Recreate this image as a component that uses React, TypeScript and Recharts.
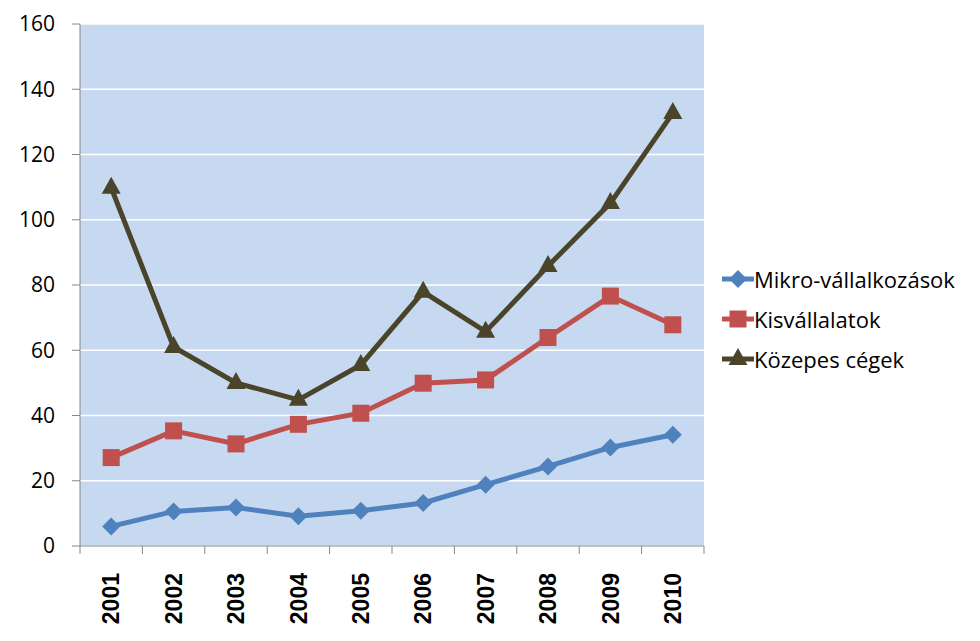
import { LineChart, Line, XAxis, YAxis, CartesianGrid } from 'recharts';

// Data
const years = ['2001', '2002', '2003', '2004', '2005', '2006', '2007', '2008', '2009', '2010'];
const mikro = [6.0, 10.6, 11.8, 9.1, 10.8, 13.2, 18.8, 24.4, 30.2, 34.1];
const kis = [27.1, 35.3, 31.3, 37.3, 40.7, 49.9, 50.9, 63.9, 76.6, 67.8];
const kozepes = [109.8, 61.0, 50.0, 44.8, 55.5, 77.9, 65.7, 85.8, 105.1, 132.7];
const yTicks = [0, 20, 40, 60, 80, 100, 120, 140, 160];

const seriesNames = ['Mikro-vállalkozások', 'Kisvállalatok', 'Közepes cégek'];
const colors = ['#4F81BD', '#C0504D', '#4A452A'];

const data = years.map((year, i) => ({
  year,
  mikro: mikro[i],
  kis: kis[i],
  kozepes: kozepes[i],
}));

const W = 980;
const H = 641;
const PLOT_LEFT = 80;
const PLOT_RIGHT = 704;
const HALF_BAND = (PLOT_RIGHT - PLOT_LEFT) / years.length / 2;
const FONT = '"Open Sans", Lato, sans-serif';
const AXIS_GREY = '#868686';

type MarkerKind = 'diamond' | 'square' | 'triangle';
const markers: MarkerKind[] = ['diamond', 'square', 'triangle'];

const Marker = ({ cx, cy, kind, color }: { cx: number; cy: number; kind: MarkerKind; color: string }) => {
  if (kind === 'diamond') {
    const r = 9;
    return <path d={`M${cx},${cy - r}L${cx + r},${cy}L${cx},${cy + r}L${cx - r},${cy}Z`} fill={color} />;
  }
  if (kind === 'square') {
    const r = 8.5;
    return <rect x={cx - r} y={cy - r} width={r * 2} height={r * 2} fill={color} />;
  }
  const w = 9.5;
  return <path d={`M${cx},${cy - 11}L${cx + w},${cy + 6}L${cx - w},${cy + 6}Z`} fill={color} />;
};

const makeDot = (kind: MarkerKind, color: string) => (props: any) => {
  const { cx, cy, index } = props;
  if (cx == null || cy == null) return <g key={index} />;
  return <Marker key={index} cx={cx} cy={cy} kind={kind} color={color} />;
};

// x tick: rotated year label plus a tick mark on category boundaries
const XTick = (props: any) => {
  const { x, y, payload, index } = props;
  return (
    <g>
      <line x1={x - HALF_BAND} y1={y} x2={x - HALF_BAND} y2={y + 8} stroke={AXIS_GREY} />
      {index === years.length - 1 && (
        <line x1={x + HALF_BAND} y1={y} x2={x + HALF_BAND} y2={y + 8} stroke={AXIS_GREY} />
      )}
      <text
        x={x}
        y={y + 27}
        transform={`rotate(-90, ${x}, ${y + 27})`}
        textAnchor="end"
        dy="0.36em"
        fill="#000"
        fontSize={23}
        fontWeight="bold"
        fontFamily='"Liberation Sans", Arial, sans-serif'
      >
        {payload.value}
      </text>
    </g>
  );
};

const ChartLegend = () => (
  <div style={{ position: 'absolute', left: 722, top: 259, fontFamily: FONT, fontSize: 22, color: '#000' }}>
    {seriesNames.map((name, i) => (
      <div key={name} style={{ display: 'flex', alignItems: 'center', height: 40 }}>
        <svg width={32} height={24} style={{ marginRight: 0 }}>
          <line x1={0} y1={12} x2={32} y2={12} stroke={colors[i]} strokeWidth={5} />
          <Marker cx={16} cy={12} kind={markers[i]} color={colors[i]} />
        </svg>
        <span>{name}</span>
      </div>
    ))}
  </div>
);

const App = () => {
  const keys = ['mikro', 'kis', 'kozepes'];
  return (
    <div style={{ position: 'absolute', left: 0, top: 0, width: W, height: H, background: '#fff' }}>
      <LineChart width={W} height={H} data={data} margin={{ top: 24, right: W - PLOT_RIGHT, bottom: 0, left: 0 }}>
        <CartesianGrid vertical={false} stroke="#FFFFFF" strokeWidth={1.5} fill="#C6D9F1" />
        <XAxis
          dataKey="year"
          height={95}
          padding={{ left: HALF_BAND, right: HALF_BAND }}
          axisLine={{ stroke: AXIS_GREY }}
          tickLine={false}
          tickSize={0}
          tickMargin={0}
          interval={0}
          tick={<XTick />}
        />
        <YAxis
          width={PLOT_LEFT}
          domain={[0, 160]}
          ticks={yTicks}
          axisLine={{ stroke: AXIS_GREY }}
          tickLine={{ stroke: AXIS_GREY }}
          tickSize={8}
          tickMargin={17}
          tick={{ fill: '#000', fontSize: 21, fontFamily: FONT }}
        />
        {keys.map((k, i) => (
          <Line
            key={k}
            dataKey={k}
            name={seriesNames[i]}
            stroke={colors[i]}
            strokeWidth={5}
            dot={makeDot(markers[i], colors[i])}
            activeDot={false}
            isAnimationActive={false}
          />
        ))}
      </LineChart>
      <ChartLegend />
    </div>
  );
};

export default App;
